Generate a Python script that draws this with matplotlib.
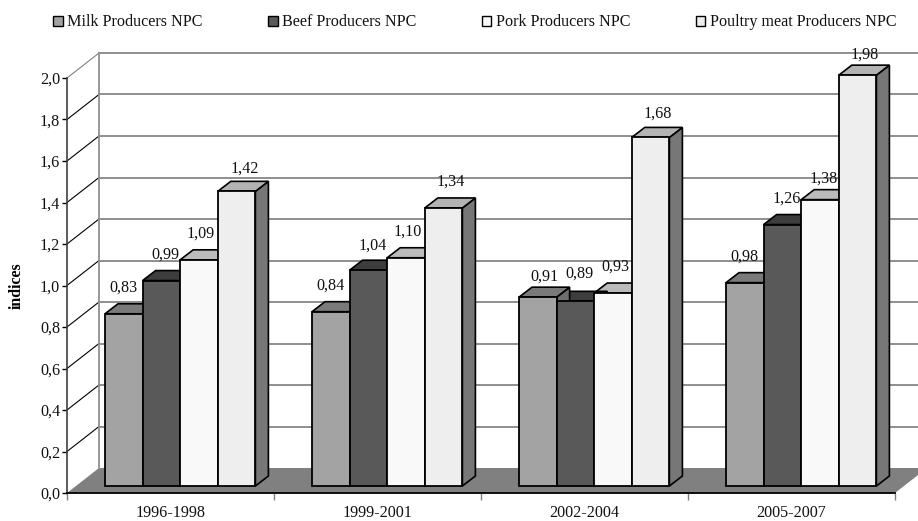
import matplotlib
matplotlib.use("Agg")
import matplotlib.pyplot as plt
from matplotlib.patches import Polygon, Patch

plt.rcParams['font.family'] = ['Liberation Serif', 'DejaVu Serif']

periods = ["1996-1998", "1999-2001", "2002-2004", "2005-2007"]
series_names = ["Milk Producers NPC", "Beef Producers NPC", "Pork Producers NPC", "Poultry meat Producers NPC"]
milk = [0.83, 0.84, 0.91, 0.98]
beef = [0.99, 1.04, 0.89, 1.26]
pork = [1.09, 1.10, 0.93, 1.38]
poultry = [1.42, 1.34, 1.68, 1.98]
y_ticks = [0.0, 0.2, 0.4, 0.6, 0.8, 1.0, 1.2, 1.4, 1.6, 1.8, 2.0]

series = [milk, beef, pork, poultry]
front_cols = ["#a3a3a3", "#595959", "#f9f9f9", "#eeeeee"]
top_cols = ["#7a7a7a", "#3d3d3d", "#bbbbbb", "#b3b3b3"]
side_cols = ["#6e6e6e", "#333333", "#8a8a8a", "#777777"]
label_dx = [0, 4, 2, 7]
# hand placement of single value labels, in pixels: (group, series) -> (dx, dy)
label_nudge = {(0, 3): (1, -3), (2, 0): (7, -5), (2, 1): (0, 2), (2, 3): (0, -2),
               (3, 2): (2, -5), (3, 3): (0, -5), (1, 1): (0, -1)}
FS = 11.6

W, H = 918, 521
fig = plt.figure(figsize=(W / 100, H / 100), dpi=100, facecolor="white")
L, R, T, B = 67, 895, 78, 493
ax = fig.add_axes([L / W, 1 - B / H, (R - L) / W, (B - T) / H])
ax.set_xlim(0, len(periods))
ax.set_ylim(0, 2)
ax.patch.set_visible(False)

ux = (R - L) / len(periods)
uy = (B - T) / 2.0
DX, DY = 32 / ux, 25 / uy           # depth of the chart box
start, bw = 38 / ux, 37.6 / ux      # first bar offset and bar width
base = 7 / uy                       # bars stand on the floor
bdx, bdy = 13 / ux, 10 / uy         # depth of the bars
n = len(periods)

# floor
ax.add_patch(Polygon([(0, 0), (n, 0), (n + DX, DY), (DX, DY)], closed=True, fc="#808080",
                     ec="none", zorder=1, clip_on=False))
# back wall
for v in y_ticks[1:]:
    col = "#808080" if v == 2.0 else "#000000"
    ax.plot([0, DX], [v, v + DY], color=col, lw=0.8, zorder=1, clip_on=False)
    ax.plot([DX, n + DX], [v + DY, v + DY], color="#707070", lw=1.1, zorder=1, clip_on=False)
ax.plot([DX, DX], [DY, 2 + DY], color="#909090", lw=1.3, zorder=1, clip_on=False)

# bars: depth faces first, from right to left, then front faces
z = 2
for g in reversed(range(n)):
    for s in reversed(range(len(series))):
        v = series[s][g]
        x0 = g + start + s * bw
        x1 = x0 + bw
        y0, y1 = base, base + v
        ax.add_patch(Polygon([(x1, y0), (x1 + bdx, y0 + bdy), (x1 + bdx, y1 + bdy), (x1, y1)],
                             closed=True, fc=side_cols[s], ec="black", lw=1.2, zorder=z, clip_on=False))
        ax.add_patch(Polygon([(x0, y1), (x1, y1), (x1 + bdx, y1 + bdy), (x0 + bdx, y1 + bdy)],
                             closed=True, fc=top_cols[s], ec="black", lw=1.2, zorder=z, clip_on=False))
        z += 0.01
for g in range(n):
    for s in range(len(series)):
        v = series[s][g]
        x0 = g + start + s * bw
        ax.add_patch(Polygon([(x0, base), (x0 + bw, base), (x0 + bw, base + v), (x0, base + v)],
                             closed=True, fc=front_cols[s], ec="black", lw=1.3, zorder=4, clip_on=False))
        ndx, ndy = label_nudge.get((g, s), (0, 0))
        ax.annotate(f"{v:.2f}".replace(".", ","), (x0 + bw / 2, base + v),
                    xytext=(label_dx[s] + ndx, 26 + ndy), textcoords="offset pixels",
                    ha="center", va="center", fontsize=FS, color="#111111", zorder=6,
                    annotation_clip=False)

# axes
for k in ("top", "right"):
    ax.spines[k].set_visible(False)
ax.spines["left"].set_color("#404040")
ax.spines["left"].set_linewidth(1.2)
ax.spines["bottom"].set_color("black")
ax.spines["bottom"].set_linewidth(1.3)
ax.spines["left"].set_zorder(5)
ax.spines["bottom"].set_zorder(5)
ax.set_yticks(y_ticks)
ax.set_yticklabels([f"{v:.1f}".replace(".", ",") for v in y_ticks], fontsize=FS, color="#111111")
ax.tick_params(axis="y", length=3.5, width=1, color="black", pad=1.5)
ax.set_xticks(range(n + 1))
ax.set_xticklabels([""] * (n + 1))
ax.set_xticks([i + 0.5 for i in range(n)], minor=True)
ax.set_xticklabels(periods, minor=True, fontsize=FS, color="#111111")
ax.tick_params(axis="x", which="major", length=5, width=1, color="#808080")
ax.tick_params(axis="x", which="minor", length=0, pad=8.5)
ax.set_ylabel("indices", fontsize=11.4, fontweight="bold", labelpad=0)
ax.yaxis.set_label_coords((25 - L) / (R - L), 0.5, transform=ax.transAxes)

handles = [Patch(fc=c, ec="black", lw=1) for c in front_cols]
fig.legend(handles, series_names, loc="center left", bbox_to_anchor=(53 / W, 1 - 22.5 / H), ncol=4,
           frameon=False, fontsize=FS, handlelength=0.6, handleheight=0.6, handletextpad=0.28,
           columnspacing=4.05, borderpad=0, borderaxespad=0, labelcolor="#111111")

fig.savefig("out.png", dpi=100)
